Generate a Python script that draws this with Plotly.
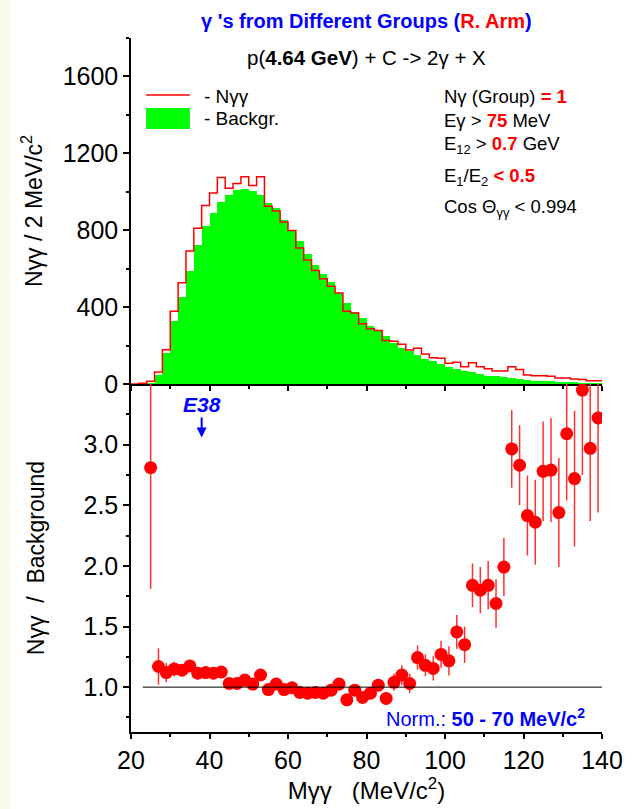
import plotly.graph_objects as go

# ---------------- data ----------------
BIN_WIDTH = 2
BIN_EDGES = list(range(20, 141, BIN_WIDTH))  # 20 ... 140 MeV/c^2

N_GG = [0, 4, 14, 62, 178, 378, 527, 692, 810, 929,
        994, 1074, 1019, 1043, 1078, 1033, 1078, 925, 900, 843,
        798, 708, 645, 591, 548, 508, 473, 378, 369, 314,
        288, 278, 226, 222, 207, 177, 186, 156, 137, 134,
        108, 113, 90, 111, 90, 80, 68, 68, 90, 76,
        47, 43, 43, 40, 31, 31, 26, 24, 17, 17]

BACKGR = [0, 1, 5, 48, 161, 327, 452, 588, 723, 821,
          890, 948, 982, 1008, 1017, 1003, 982, 944, 918, 852,
          800, 743, 678, 621, 574, 530, 475, 421, 374, 343,
          303, 276, 249, 213, 188, 172, 150, 132, 119, 106,
          89, 78, 67, 60, 50, 43, 40, 34, 30, 27,
          20, 18, 15, 14, 13, 10, 9, 7, 6, 5]

RATIO_X = list(range(25, 140, 2))
RATIO = [2.81, 1.17, 1.12, 1.15, 1.14, 1.175, 1.115, 1.12, 1.115, 1.125,
         1.03, 1.03, 1.058, 1.025, 1.10, 0.98, 1.025, 0.98, 0.995, 0.956,
         0.95, 0.956, 0.95, 0.975, 1.025, 0.895, 0.975, 0.915, 0.95, 1.016,
         0.907, 1.04, 1.10, 1.03, 1.244, 1.18, 1.154, 1.27, 1.217, 1.455,
         1.35, 1.84, 1.80, 1.84, 1.69, 1.99, 2.965, 2.83, 2.415, 2.36,
         2.78, 2.79, 2.44, 3.09, 2.72, 3.45, 2.97, 3.22]
RATIO_ERR = [1.0, 0.15, 0.08, 0.06, 0.05, 0.05, 0.04, 0.04, 0.04, 0.04,
             0.035, 0.035, 0.035, 0.035, 0.035, 0.035, 0.035, 0.035, 0.035, 0.035,
             0.035, 0.035, 0.035, 0.04, 0.04, 0.04, 0.04, 0.04, 0.045, 0.05,
             0.05, 0.07, 0.08, 0.08, 0.10, 0.09, 0.10, 0.11, 0.12, 0.14,
             0.15, 0.18, 0.19, 0.20, 0.20, 0.24, 0.32, 0.33, 0.33, 0.35,
             0.41, 0.43, 0.45, 0.55, 0.56, 0.70, 0.60, 0.78]

X_RANGE = [20, 140]
Y1_RANGE = [0, 1800]
Y2_RANGE = [0.63, 3.5]
Y2_TICKS = [1.0, 1.5, 2.0, 2.5, 3.0]
NORM_LINE = 1.0
NORM_LINE_START = 23
E38_POS = 38

# ---------------- figure ----------------
FONT = "Liberation Sans, Arial, sans-serif"
RED = "#FF0000"
GREEN = "#00FF00"
BLUE = "#0000FF"
Y_SPLIT = 0.5014

bin_centers = [e + BIN_WIDTH / 2 for e in BIN_EDGES[:-1]]

fig = go.Figure()
fig.add_trace(go.Bar(x=bin_centers, y=BACKGR, width=BIN_WIDTH,
                     marker=dict(color=GREEN, line=dict(width=0)),
                     xaxis="x", yaxis="y", name="Backgr."))
fig.add_trace(go.Scatter(x=BIN_EDGES, y=N_GG + [N_GG[-1]], mode="lines",
                         line=dict(color=RED, width=1.5, shape="hv"),
                         xaxis="x", yaxis="y", name="Nγγ"))
fig.add_trace(go.Scatter(x=RATIO_X, y=RATIO, mode="markers",
                         marker=dict(color=RED, size=13, line=dict(width=0)),
                         error_y=dict(type="data", array=RATIO_ERR, color="#FF3030",
                                      thickness=1.5, width=0),
                         xaxis="x2", yaxis="y2", name="ratio"))

axis_common = dict(showline=True, linecolor="black", linewidth=1.5, showgrid=False,
                   zeroline=False, tickcolor="black", tickwidth=1.5, automargin=False,
                   tickfont=dict(family=FONT, size=25, color="black"))

fig.update_layout(
    width=632, height=809,
    margin=dict(l=131, r=30, t=38, b=77),
    paper_bgcolor="white", plot_bgcolor="white",
    showlegend=False, bargap=0,
    font=dict(family=FONT, size=20, color="black"),
    xaxis=dict(domain=[0, 1], anchor="y", range=X_RANGE, showticklabels=False,
               ticks="outside", ticklen=5, tick0=20, dtick=20,
               minor=dict(ticks="outside", ticklen=3, dtick=10, tick0=20, tickcolor="black"),
               **axis_common),
    xaxis3=dict(overlaying="x", anchor="y", side="top", range=X_RANGE, showticklabels=False,
                ticks="inside", ticklen=5, tick0=20, dtick=20,
                minor=dict(ticks="inside", ticklen=3, dtick=10, tick0=20, tickcolor="black"),
                **axis_common),
    yaxis=dict(domain=[Y_SPLIT, 1], anchor="x", range=Y1_RANGE,
               ticks="outside", ticklen=6, tick0=0, dtick=400,
               minor=dict(ticks="outside", ticklen=3, dtick=200, tick0=0, tickcolor="black"),
               title=dict(text="Nγγ / 2 MeV/c<sup>2</sup>", font=dict(size=23), standoff=14),
               **axis_common),
    yaxis3=dict(overlaying="y", anchor="x", side="right", range=Y1_RANGE, showticklabels=False,
                ticks="inside", ticklen=4, tick0=0, dtick=200, **axis_common),
    xaxis2=dict(domain=[0, 1], anchor="y2", range=X_RANGE,
                ticks="outside", ticklen=5, tick0=20, dtick=20,
                minor=dict(ticks="outside", ticklen=3, dtick=10, tick0=20, tickcolor="black"),
                title=dict(text="Mγγ\u00a0\u00a0\u00a0(MeV/c<sup>2</sup>)", font=dict(size=24), standoff=6),
                **axis_common),
    yaxis2=dict(domain=[0, Y_SPLIT], anchor="x2", range=Y2_RANGE,
                ticks="outside", ticklen=6, tickmode="array", tickvals=Y2_TICKS,
                ticktext=[f"{v:.1f}" for v in Y2_TICKS],
                minor=dict(ticks="outside", ticklen=3, dtick=0.25, tick0=0, tickcolor="black"),
                title=dict(text="Nγγ\u00a0\u00a0/\u00a0\u00a0Background", font=dict(size=23), standoff=32),
                **axis_common),
    yaxis4=dict(overlaying="y2", anchor="x2", side="right", range=Y2_RANGE, showticklabels=False,
                ticks="inside", ticklen=4, tick0=0, dtick=0.25, **axis_common),
)

shapes = [
    # pale strip at the left edge of the page
    dict(type="rect", xref="paper", yref="paper", x0=-0.2781, x1=-0.2569, y0=-0.12, y1=1.06,
         fillcolor="#FAFAE6", line=dict(width=0), layer="below"),
    # normalisation reference line
    dict(type="line", xref="x2", yref="y2", x0=NORM_LINE_START, x1=X_RANGE[1],
         y0=NORM_LINE, y1=NORM_LINE, line=dict(color="black", width=1)),
    # legend symbols
    dict(type="line", xref="paper", yref="paper", x0=0.032, x1=0.125, y0=0.9179, y1=0.9179,
         line=dict(color=RED, width=1.5)),
    dict(type="rect", xref="paper", yref="paper", x0=0.032, x1=0.125, y0=0.8689, y1=0.8991,
         fillcolor=GREEN, line=dict(width=0)),
]
fig.update_layout(shapes=shapes)

ann = []
ann.append(dict(xref="paper", yref="paper", x=0.5, y=1.0245, xanchor="center", yanchor="middle",
                showarrow=False, font=dict(size=20, color=BLUE),
                text="<b>γ 's from Different Groups (<span style='color:#FF0000'>R. Arm</span>)</b>"))
ann.append(dict(xref="paper", yref="paper", x=0.5, y=0.9726, xanchor="center", yanchor="middle",
                showarrow=False, font=dict(size=20.5),
                text="p(<b>4.64 GeV</b>) + C -&gt; 2γ + X"))
ann.append(dict(xref="paper", yref="paper", x=0.151, y=0.915, xanchor="left", yanchor="middle",
                showarrow=False, font=dict(size=19), text="- Nγγ"))
ann.append(dict(xref="paper", yref="paper", x=0.151, y=0.8847, xanchor="left", yanchor="middle",
                showarrow=False, font=dict(size=19), text="- Backgr."))

box_lines = [
    ("Nγ (Group) <b><span style='color:#FF0000'>= 1</span></b>", 0.9154),
    ("Eγ &gt; <b><span style='color:#FF0000'>75</span></b> MeV", 0.8808),
    ("E<sub>12</sub> &gt; <b><span style='color:#FF0000'>0.7</span></b> GeV", 0.8458),
    ("E<sub>1</sub>/E<sub>2</sub> <b><span style='color:#FF0000'>&lt; 0.5</span></b>", 0.7997),
    ("Cos Θ<sub>γγ</sub> &lt; 0.994", 0.7550),
]
for txt, yy in box_lines:
    ann.append(dict(xref="paper", yref="paper", x=0.660, y=yy, xanchor="left", yanchor="middle",
                    showarrow=False, font=dict(size=18.5), text=txt))

ann.append(dict(xref="x2", yref="y2", x=E38_POS, y=3.06, ax=0, ay=-33,
                showarrow=True, arrowhead=2, arrowsize=1, arrowwidth=2, arrowcolor=BLUE,
                font=dict(size=21, color=BLUE), text="<b><i>E38</i></b>"))
ann.append(dict(xref="paper", yref="paper", x=0.968, y=0.0216, xanchor="right", yanchor="middle",
                showarrow=False, font=dict(size=20, color=BLUE),
                text="Norm.: <b>50 - 70 MeV/c<sup>2</sup></b>"))
fig.update_layout(annotations=ann)

fig.write_html("out.html")
